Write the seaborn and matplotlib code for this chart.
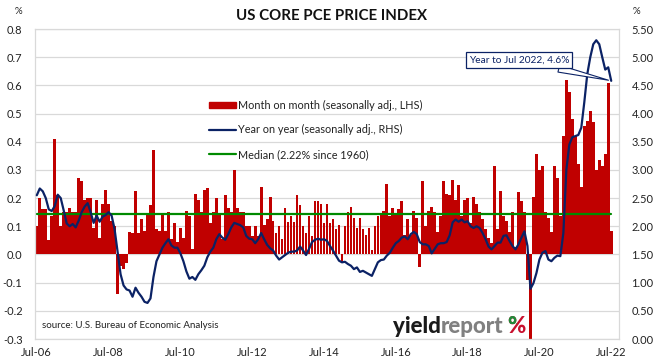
import numpy as np
import pandas as pd
import matplotlib
matplotlib.use("Agg")
import matplotlib.pyplot as plt
import seaborn as sns
from matplotlib.lines import Line2D
from matplotlib.patches import Patch, Rectangle

# month on month core PCE, % (LHS) - Jul 2006 .. Jul 2022
mom_2006 = [0.10, 0.20, 0.16, 0.16, 0.05, 0.135]
mom_2007 = [0.41, 0.21, 0.10, 0.15, 0.15, 0.165, 0.15, 0.15, 0.27, 0.26, 0.195, 0.20]
mom_2008 = [0.20, 0.095, 0.195, 0.06, 0.18, 0.23, 0.18, 0.12, 0.10, -0.14, -0.04, -0.05]
mom_2009 = [-0.03, 0.08, 0.075, 0.225, 0.075, 0.125, 0.085, 0.145, 0.175, 0.37, 0.09, 0.085]
mom_2010 = [0.14, 0.085, 0.15, 0.055, 0.11, 0.045, 0.095, 0.06, 0.155, 0.135, 0.02, 0.215]
mom_2011 = [0.195, 0.15, 0.23, 0.235, 0.11, 0.15, 0.20, 0.145, 0.055, 0.21, 0.165, 0.15]
mom_2012 = [0.30, 0.165, 0.15, 0.15, 0.10, 0.10, 0.065, 0.10, 0.065, 0.24, 0.105, 0.125]
mom_2013 = [0.205, 0.12, 0.075, 0.10, 0.055, 0.165, 0.115, 0.135, 0.115, 0.21, 0.175, 0.10]
mom_2014 = [0.075, 0.135, 0.065, 0.19, 0.19, 0.18, 0.11, 0.18, 0.11, 0.125, 0.09, 0.105]
mom_2015 = [-0.025, 0.10, 0.15, 0.17, 0.13, 0.095, 0.13, 0.09, 0.07, 0.095, 0.015, 0.10]
mom_2016 = [0.135, 0.14, 0.155, 0.25, 0.135, 0.165, 0.145, 0.16, 0.19, 0.07, 0.125, 0.07]
mom_2017 = [0.155, 0.13, -0.045, 0.26, 0.10, 0.155, 0.17, 0.15, 0.08, 0.135, 0.26, 0.215]
mom_2018 = [0.21, 0.265, 0.195, 0.245, 0.135, 0.195, 0.20, 0.11, 0.205, 0.18, 0.15, 0.125]
mom_2019 = [0.09, 0.06, 0.04, 0.315, 0.09, 0.225, 0.135, 0.12, 0.08, 0.15, 0.025, 0.22]
mom_2020 = [0.19, 0.15, -0.09, -0.30, 0.205, 0.355, 0.30, 0.315, 0.15, 0.13, 0.08, 0.315]
mom_2021 = [0.27, 0.135, 0.42, 0.62, 0.575, 0.48, 0.42, 0.32, 0.24, 0.455, 0.475, 0.51]
mom_2022 = [0.47, 0.30, 0.335, 0.315, 0.355, 0.61, 0.085]

# year on year core PCE, % (RHS)
yoy_2006 = [2.55, 2.67, 2.62, 2.50, 2.30, 2.27]
yoy_2007 = [2.36, 2.56, 2.50, 2.28, 2.05, 2.00, 2.04, 1.98, 2.10, 2.25, 2.35, 2.41]
yoy_2008 = [2.25, 2.06, 2.19, 2.08, 2.17, 2.20, 2.25, 2.19, 1.95, 1.55, 1.15, 0.95]
yoy_2009 = [0.88, 0.86, 0.75, 0.91, 0.82, 0.75, 0.66, 0.64, 0.72, 1.10, 1.38, 1.50]
yoy_2010 = [1.62, 1.70, 1.77, 1.66, 1.62, 1.62, 1.52, 1.38, 1.20, 1.07, 1.10, 1.05]
yoy_2011 = [1.15, 1.22, 1.30, 1.45, 1.55, 1.62, 1.77, 1.86, 1.80, 1.76, 1.86, 1.98]
yoy_2012 = [2.06, 2.04, 2.02, 1.98, 1.83, 1.78, 1.77, 1.70, 1.77, 1.88, 1.77, 1.67]
yoy_2013 = [1.61, 1.57, 1.48, 1.41, 1.45, 1.49, 1.53, 1.55, 1.55, 1.57, 1.64, 1.57]
yoy_2014 = [1.49, 1.60, 1.72, 1.76, 1.78, 1.76, 1.77, 1.74, 1.65, 1.57, 1.48, 1.39]
yoy_2015 = [1.36, 1.37, 1.33, 1.30, 1.24, 1.27, 1.19, 1.21, 1.18, 1.15, 1.12, 1.24]
yoy_2016 = [1.36, 1.40, 1.41, 1.48, 1.53, 1.62, 1.70, 1.74, 1.80, 1.82, 1.77, 1.86]
yoy_2017 = [1.90, 1.86, 1.72, 1.68, 1.68, 1.65, 1.52, 1.60, 1.68, 1.70, 1.70, 1.72]
yoy_2018 = [1.84, 2.07, 2.12, 2.08, 2.12, 2.07, 2.09, 2.00, 1.97, 2.00, 1.97, 1.88]
yoy_2019 = [1.77, 1.64, 1.59, 1.65, 1.71, 1.71, 1.83, 1.84, 1.74, 1.65, 1.59, 1.68]
yoy_2020 = [1.80, 1.91, 1.65, 0.89, 0.99, 1.17, 1.41, 1.53, 1.56, 1.41, 1.38, 1.44]
yoy_2021 = [1.48, 1.47, 1.88, 3.00, 3.45, 3.58, 3.60, 3.62, 3.75, 4.20, 4.70, 5.00]
yoy_2022 = [5.23, 5.30, 5.23, 5.00, 4.78, 4.82, 4.58]

median_yoy = 2.22
x_tick_labels = ["Jul-06", "Jul-08", "Jul-10", "Jul-12", "Jul-14",
                 "Jul-16", "Jul-18", "Jul-20", "Jul-22"]
left_ticks = [-0.3, -0.2, -0.1, 0.0, 0.1, 0.2, 0.3, 0.4, 0.5, 0.6, 0.7, 0.8]
right_ticks = [0.0, 0.5, 1.0, 1.5, 2.0, 2.5, 3.0, 3.5, 4.0, 4.5, 5.0, 5.5]

mom = (mom_2006 + mom_2007 + mom_2008 + mom_2009 + mom_2010 + mom_2011 + mom_2012
       + mom_2013 + mom_2014 + mom_2015 + mom_2016 + mom_2017 + mom_2018
       + mom_2019 + mom_2020 + mom_2021 + mom_2022)
yoy = (yoy_2006 + yoy_2007 + yoy_2008 + yoy_2009 + yoy_2010 + yoy_2011 + yoy_2012
       + yoy_2013 + yoy_2014 + yoy_2015 + yoy_2016 + yoy_2017 + yoy_2018
       + yoy_2019 + yoy_2020 + yoy_2021 + yoy_2022)

df = pd.DataFrame({"pos": np.arange(len(mom)), "mom": mom, "yoy": yoy})
df["median"] = median_yoy

RED = "#C00000"
NAVY = "#0B2265"
GREEN = "#008A00"
GRID = "#d9d9d9"
TXT = "#222222"

sns.set_style("white")
plt.rcParams["font.family"] = ["Lato", "DejaVu Sans"]

fig = plt.figure(figsize=(6.62, 3.63), dpi=100)
ax = fig.add_axes([35 / 662, 24 / 363, 584 / 662, 310 / 363])

sns.barplot(data=df, x="pos", y="mom", color=RED, saturation=1, width=0.9,
            errorbar=None, linewidth=0, ax=ax)
ax.set_ylim(-0.3, 0.8)
ax.set_xlim(-0.6, len(mom) + 1.6)
ax.set_yticks(left_ticks)
ax.set_yticklabels([f"{v:.1f}" for v in left_ticks])
ax.set_xticks(range(0, len(mom), 24))
ax.set_xticklabels(x_tick_labels)
ax.set_xlabel("")
ax.set_ylabel("")
ax.yaxis.grid(True, color=GRID, lw=0.9)
ax.set_axisbelow(True)
ax.tick_params(length=0, labelsize=8, colors=TXT)
ax.tick_params(axis="y", pad=9)
ax.tick_params(axis="x", pad=6)
for s in ax.spines.values():
    s.set_color(GRID)
    s.set_linewidth(0.9)

ax2 = ax.twinx()
sns.lineplot(data=df, x="pos", y="median", color=GREEN, lw=1.6, ax=ax2)
sns.lineplot(data=df, x="pos", y="yoy", color=NAVY, lw=1.6, ax=ax2)
ax2.set_ylim(0, 5.5)
ax2.set_yticks(right_ticks)
ax2.set_yticklabels([f"{v:.2f}" for v in right_ticks])
ax2.set_ylabel("")
ax2.tick_params(length=0, labelsize=8, colors=TXT, pad=9)
for s in ax2.spines.values():
    s.set_visible(False)

# legend
handles = [Patch(color=RED), Line2D([], [], color=NAVY, lw=1.6),
           Line2D([], [], color=GREEN, lw=1.6)]
labels = ["Month on month (seasonally adj., LHS)",
          "Year on year (seasonally adj., RHS)",
          "Median (2.22% since 1960)"]
ax2.legend(handles, labels, loc="upper left", frameon=False, fontsize=7.8,
           bbox_to_anchor=(199 / 662, 1 - 90 / 363), bbox_transform=fig.transFigure,
           handlelength=2.5, handleheight=0.55, handletextpad=0.2, labelspacing=1.25,
           labelcolor=TXT)

# callout on the latest reading
ax2.annotate("Year to Jul 2022, 4.6%", xy=(df["pos"].iloc[-1], yoy[-1]),
             xytext=(519 / 662, 1 - 60 / 363), textcoords="figure fraction",
             ha="center", va="center", fontsize=7.3, color=NAVY,
             bbox=dict(boxstyle="square,pad=0.3", fc="white", ec=NAVY, lw=0.9),
             arrowprops=dict(arrowstyle="wedge,tail_width=0.7,shrink_factor=0.5",
                             fc="white", ec=NAVY, lw=0.8, relpos=(0.72, 0.0)))

# titles and notes
fig.text(0.5, 1 - 16 / 363, "US CORE PCE PRICE INDEX", ha="center", va="center",
         fontsize=10.8, fontweight="bold", color="#111111")
fig.text(18 / 662, 1 - 12 / 363, "%", ha="center", va="center", fontsize=7, color=TXT)
fig.text(636 / 662, 1 - 12 / 363, "%", ha="center", va="center", fontsize=7, color=TXT)
ax.text(0.012, 0.045, "source: U.S. Bureau of Economic Analysis", transform=ax.transAxes,
        fontsize=7, color=TXT, ha="left", va="center")

# yieldreport logo
fig.canvas.draw()
r = fig.canvas.get_renderer()
x0, ly = 393 / 662, 1 - 333 / 363
t1 = fig.text(x0, ly, "yield", fontsize=16, fontweight="black", color="#1a1a1a",
              ha="left", va="baseline")
x1 = fig.transFigure.inverted().transform(t1.get_window_extent(r))[1][0]
t2 = fig.text(x1, ly, "report", fontsize=16, fontweight="black", color="#808080",
              ha="left", va="baseline")
x2 = fig.transFigure.inverted().transform(t2.get_window_extent(r))[1][0] + 0.006
t3 = fig.text(x2, ly, "%", fontsize=16, fontweight="black", color="#C8102E",
              ha="left", va="baseline")
t4 = fig.text(x2, ly, "%", fontsize=16, fontweight="black", color="#1E8B3A",
              ha="left", va="baseline")
bb = fig.transFigure.inverted().transform(t3.get_window_extent(r))
h = bb[1][1] - bb[0][1]
clip = Rectangle((bb[0][0], bb[0][1] + 0.62 * h), (bb[1][0] - bb[0][0]) * 0.5, h,
                 transform=fig.transFigure)
t4.set_clip_path(clip)

fig.savefig("out.png", dpi=100)
